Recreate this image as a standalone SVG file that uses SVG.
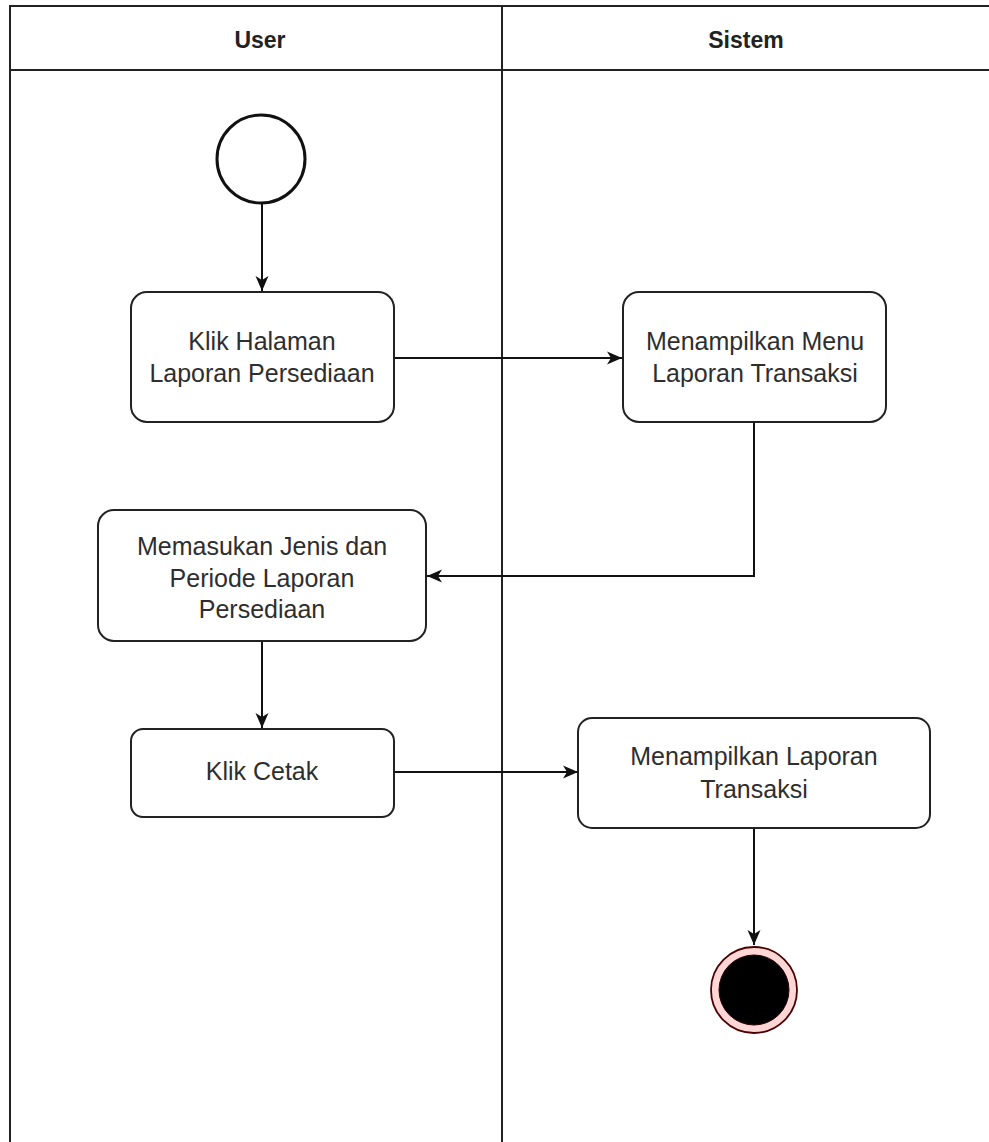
<svg xmlns="http://www.w3.org/2000/svg" width="989" height="1142" viewBox="0 0 989 1142">
<defs>
<marker id="arr" markerWidth="16" markerHeight="14" refX="15" refY="7" orient="auto" markerUnits="userSpaceOnUse">
<path d="M0,0.5 L15,7 L0,13.5 L4,7 Z" fill="#111"/>
</marker>
<style>
.lane{fill:none;stroke:#222;stroke-width:2}
.hdr{font-family:"Liberation Sans",Arial,sans-serif;font-size:23px;font-weight:bold;fill:#222;text-anchor:middle}
.box{fill:#fff;stroke:#222;stroke-width:2}
.t{font-family:"Liberation Sans",Arial,sans-serif;font-size:25px;fill:#2e2e2e;text-anchor:middle}
.c{fill:none;stroke:#111;stroke-width:2}
</style>
</defs>
<rect width="989" height="1142" fill="#fff"/>
<g id="lanes">
<rect class="lane" x="10" y="6" width="1000" height="1160"/>
<line class="lane" x1="10" y1="70" x2="989" y2="70"/>
<line class="lane" x1="502" y1="6" x2="502" y2="1142"/>
<text class="hdr" x="260" y="48">User</text>
<text class="hdr" x="746" y="48">Sistem</text>
</g>
<g id="connectors">
<line class="c" x1="262" y1="204" x2="262" y2="291" marker-end="url(#arr)"/>
<line class="c" x1="394" y1="358" x2="622" y2="358" marker-end="url(#arr)"/>
<polyline class="c" points="754,422 754,576 427,576" marker-end="url(#arr)"/>
<line class="c" x1="262" y1="641" x2="262" y2="728" marker-end="url(#arr)"/>
<line class="c" x1="394" y1="772" x2="578" y2="772" marker-end="url(#arr)"/>
<line class="c" x1="754" y1="828" x2="754" y2="945" marker-end="url(#arr)"/>
</g>
<g id="start">
<circle cx="261" cy="159" r="44" fill="#fff" stroke="#111" stroke-width="3"/>
</g>
<g id="klik-halaman">
<rect class="box" x="131" y="292" width="263" height="130" rx="16"/>
<text class="t" x="262" y="350">Klik Halaman</text>
<text class="t" x="262" y="382">Laporan Persediaan</text>
</g>
<g id="menampilkan-menu">
<rect class="box" x="623" y="292" width="263" height="130" rx="16"/>
<text class="t" x="755" y="350">Menampilkan Menu</text>
<text class="t" x="755" y="382">Laporan Transaksi</text>
</g>
<g id="memasukan">
<rect class="box" x="98" y="510" width="328" height="131" rx="16"/>
<text class="t" x="262" y="555">Memasukan Jenis dan</text>
<text class="t" x="262" y="587">Periode Laporan</text>
<text class="t" x="262" y="618">Persediaan</text>
</g>
<g id="klik-cetak">
<rect class="box" x="131" y="729" width="263" height="88" rx="12"/>
<text class="t" x="262" y="780">Klik Cetak</text>
</g>
<g id="menampilkan-laporan">
<rect class="box" x="578" y="718" width="352" height="110" rx="14"/>
<text class="t" x="754" y="765">Menampilkan Laporan</text>
<text class="t" x="754" y="798">Transaksi</text>
</g>
<g id="end">
<circle cx="754" cy="990" r="43" fill="#ffd6d6" stroke="#4a0000" stroke-width="1.8"/>
<circle cx="754" cy="990" r="35" fill="#000" stroke="#2a0000" stroke-width="1"/>
</g>
</svg>
